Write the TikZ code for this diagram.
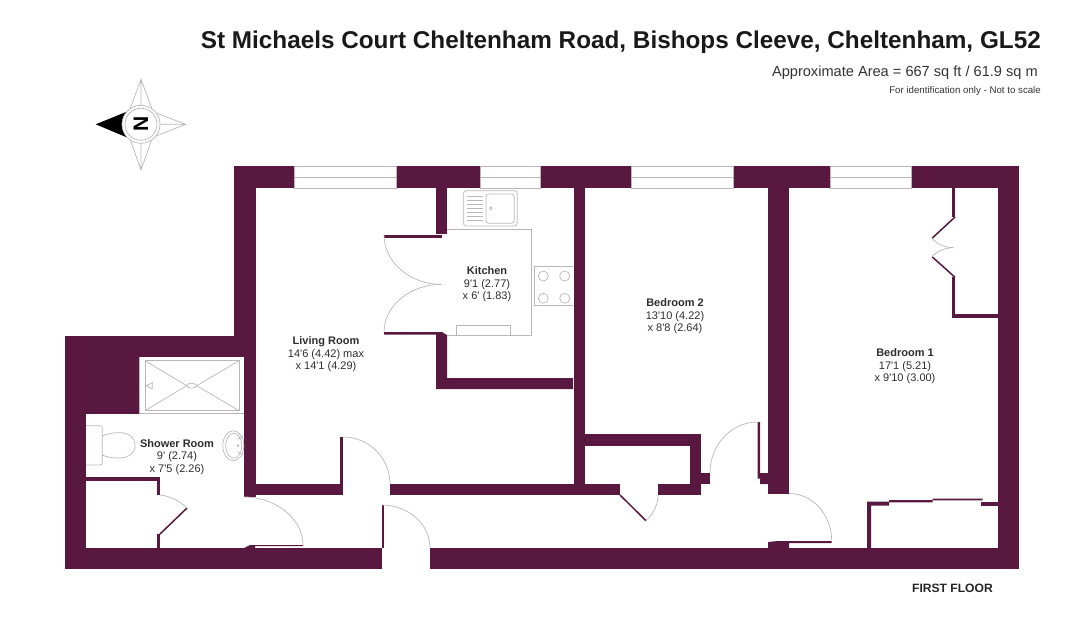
\documentclass[tikz,border=0pt]{standalone}
\usepackage{fontspec}
\newfontfamily\planfont{Liberation Sans}
\definecolor{wallcol}{HTML}{58183F}
\definecolor{linecol}{HTML}{BBB5B9}
\tikzset{
  wall/.style={fill=wallcol},
  fixture/.style={draw=linecol, line width=0.7pt},
  swing/.style={draw=linecol, line width=0.7pt},
  leaf/.style={draw=wallcol, line width=1.5pt},
  pane/.style={fill=white, draw=linecol, line width=0.7pt},
  roomlabel/.style={font=\planfont\fontsize{11}{12.5}\selectfont, text=black!82, align=center, inner sep=0pt},
  headline/.style={font=\planfont, inner sep=0pt, anchor=base east}
}
\begin{document}
\begin{tikzpicture}[x=1pt, y=-1pt]
\useasboundingbox (0,0) rectangle (1089,633);
% outer walls
\fill[wall] (234,166) rectangle (1019.3,188);
\fill[wall] (234,166) rectangle (255.5,357);
\fill[wall] (244,336) rectangle (255.5,497);
\fill[wall] (64.5,336) rectangle (255.5,357);
\fill[wall] (64.5,336) rectangle (139,413.5);
\fill[wall] (64.5,336) rectangle (86,569.3);
\fill[wall] (64.5,547.7) rectangle (382,569.3);
\fill[wall] (430,547.7) rectangle (1019.3,569.3);
\fill[wall] (998,166) rectangle (1019.3,569.3);
% inner walls
\fill[wall] (255,484) rectangle (340,495);
\fill[wall] (340,437) rectangle (343,495);
\fill[wall] (390,484) rectangle (620,495);
\fill[wall] (658,484) rectangle (701,495);
\fill[wall] (436,188) rectangle (447,234);
\fill[wall] (384,235) -- (442,235) -- (442,237.5) -- (384,237.5) -- cycle;
\fill[wall] (436,235) rectangle (442,237.5);
\fill[wall] (384,332) -- (442,332) -- (447,335) -- (447,378) -- (573,378) -- (573,389) -- (436,389) -- (436,334.5) -- (384,334.5) -- cycle;
\fill[wall] (573.5,188) rectangle (584.5,495);
\fill[wall] (584,434) rectangle (701,445.7);
\fill[wall] (690,434) rectangle (701,495);
\fill[wall] (701,473) rectangle (710,484);
\fill[wall] (767.5,188) rectangle (789.3,493.5);
\fill[wall] (757.7,422) -- (760,422) -- (760,473) -- (768,473) -- (768,484) -- (760,484) -- (760,478.7) -- (757.7,478.7) -- cycle;
\fill[wall] (768,542) -- (778,541) -- (831.7,541) -- (831.7,543) -- (789,543) -- (789,548) -- (768,548) -- cycle;
\fill[wall] (250,545) -- (303,545) -- (303,546) -- (255,546) -- (255,548) -- (244,548) -- cycle;
\fill[wall] (157,477) rectangle (160,495);
\fill[wall] (86,477) rectangle (160,481);
\fill[wall] (157,534) rectangle (160,548);
\fill[wall] (382,505) rectangle (383.5,548);
% wardrobes
\fill[wall] (867,501.7) -- (889,501.7) -- (889,500) -- (932.7,500) -- (932.7,498.7) -- (982.7,498.7) -- (982.7,500.3) -- (932.7,500.3) -- (932.7,502.3) -- (889,502.3) -- (889,505.7) -- (871,505.7) -- (871,548) -- (867,548) -- cycle;
\fill[wall] (980.7,501.7) rectangle (998,505.7);
\fill[wall] (952.3,188) rectangle (955.3,217);
\fill[wall] (952.3,277.3) rectangle (955.3,318.3);
\fill[wall] (952.3,314.3) rectangle (998,318.3);
% windows
\foreach \xa/\xb in {294/396, 480/540, 631/733, 830/911} {
  \filldraw[pane] (\xa,166) rectangle (\xb,188);
  \draw[fixture] (\xa,177) -- (\xb,177);
}
% door leaves
\draw[leaf] (160,534) -- (187,508);
\draw[leaf] (620,495) -- (646,520.7);
\draw[leaf] (955,217) -- (932,238.3);
\draw[leaf] (955,277.3) -- (932,256.7);
% door swings
\draw[swing] (343,437) .. controls (369,437) and (390,458) .. (390,484);
\draw[swing] (244,497) .. controls (276,497) and (303,519) .. (303,545);
\draw[swing] (382,505) .. controls (408,505) and (430,524) .. (430,547.7);
\draw[swing] (160,495) .. controls (170,496) and (180,501) .. (187,508);
\draw[swing] (710,473) .. controls (710,445) and (731,422) .. (757.7,422);
\draw[swing] (789,493.5) .. controls (813,493.5) and (831.7,515) .. (831.7,541);
\draw[swing] (646,520.7) .. controls (654,513) and (658,504) .. (658,495);
\draw[swing] (384,235) .. controls (384,262) and (410,284.4) .. (441,284.4);
\draw[swing] (384,332) .. controls (384,306) and (410,284.4) .. (441,284.4);
\draw[swing] (932,238.3) .. controls (937,244) and (945,247.7) .. (953.7,247.7);
\draw[swing] (932,256.7) .. controls (937,251) and (945,247.7) .. (953.7,247.7);
% kitchen
\draw[fixture] (447,229.3) -- (531.7,229.3) -- (531.7,335.3) -- (447,335.3);
\draw[fixture] (456.7,335.3) -- (456.7,325) -- (510.3,325) -- (510.3,335.3);
\draw[fixture] (573,266.7) -- (534.3,266.7) -- (534.3,305.7) -- (573,305.7);
\foreach \hx in {543.3, 564.7} {
  \foreach \hy in {276, 298.3} {
    \draw[fixture] (\hx,\hy) circle[radius=5];
  }
}
\draw[fixture, rounded corners=3pt] (463.3,190.7) rectangle (517.3,226);
\draw[fixture, rounded corners=3pt] (486,194) rectangle (514.3,223.3);
\foreach \dy in {196,200,204,208,212,216,220} {
  \draw[fixture] (467.3,\dy) -- (482.7,\dy);
}
\draw[fixture] (490.7,208.3) circle[radius=1.5];
% shower room
\draw[fixture] (139,357) -- (139,413.5) -- (244,413.5);
\draw[fixture] (145,360.7) rectangle (239,410.7);
\draw[fixture] (145,360.7) -- (186.7,385.7) (239,360.7) -- (196.7,385.7);
\draw[fixture] (145,410.7) -- (186.7,385.7) (239,410.7) -- (196.7,385.7);
\draw[fixture] (191.7,385.7) ellipse[x radius=5, y radius=2.5];
\draw[fixture] (146,385.7) -- (152.3,382.7) -- (152.3,389) -- cycle;
\draw[fixture, rounded corners=2pt] (86,425.7) -- (102.3,425.7) -- (102.3,465) -- (86,465);
\draw[fixture] (102.3,436) .. controls (110,432) and (135,428) .. (135,445.5) .. controls (135,462) and (110,459) .. (102.3,455);
\draw[fixture] (233.3,445.7) ellipse[x radius=10.5, y radius=15];
\draw[fixture] (233.7,445.7) ellipse[x radius=8, y radius=12.5];
\draw[fixture] (238,439) -- (243,436) (238,452) -- (243,455) (238,445.7) circle[radius=1];
% compass
\draw[fixture] (141,79.3) -- (130,109) -- (141,124) -- (152,109) -- cycle (141,79.3) -- (141,106);
\draw[fixture] (141,170) -- (130,139) -- (141,124) -- (152,139) -- cycle (141,170) -- (141,142);
\draw[fixture] (185.7,124.3) -- (156,113) -- (141,124.3) -- (156,136) -- cycle (185.7,124.3) -- (159,124.3);
\fill[black] (95.7,124.3) -- (126,112) -- (126,137) -- cycle;
\filldraw[fill=white, draw=linecol, line width=0.7pt] (141,124.3) circle[radius=19];
\draw[fixture] (141,124.3) circle[radius=16];
\node[font=\planfont\bfseries\fontsize{21}{21}\selectfont, rotate=90, inner sep=0pt] (northmark) at (141,124.3) {N};
% labels
\node[roomlabel] (livingroom) at (326,354.5) {\textbf{Living Room}\\14'6 (4.42) max\\x 14'1 (4.29)};
\node[roomlabel] (kitchen) at (487,284.5) {\textbf{Kitchen}\\9'1 (2.77)\\x 6' (1.83)};
\node[roomlabel] (bedroomtwo) at (675,316.5) {\textbf{Bedroom 2}\\13'10 (4.22)\\x 8'8 (2.64)};
\node[roomlabel] (bedroomone) at (905,366.5) {\textbf{Bedroom 1}\\17'1 (5.21)\\x 9'10 (3.00)};
\node[roomlabel] (showerroom) at (177,457) {\textbf{Shower Room}\\9' (2.74)\\x 7'5 (2.26)};
\node[headline, font=\planfont\bfseries\fontsize{24.3}{24.3}\selectfont, text=black!90] (address) at (1041,48) {St Michaels Court Cheltenham Road, Bishops Cleeve, Cheltenham, GL52};
\node[headline, font=\planfont\fontsize{14.6}{14.6}\selectfont, text=black!80] (areatext) at (1038,76) {Approximate Area = 667 sq ft / 61.9 sq m};
\node[headline, font=\planfont\fontsize{9.7}{9.7}\selectfont, text=black!80] (scaletext) at (1041,93) {For identification only - Not to scale};
\node[headline, font=\planfont\bfseries\fontsize{12.1}{12.1}\selectfont, text=black!85] (floorname) at (993,592) {FIRST FLOOR};
\end{tikzpicture}
\end{document}
